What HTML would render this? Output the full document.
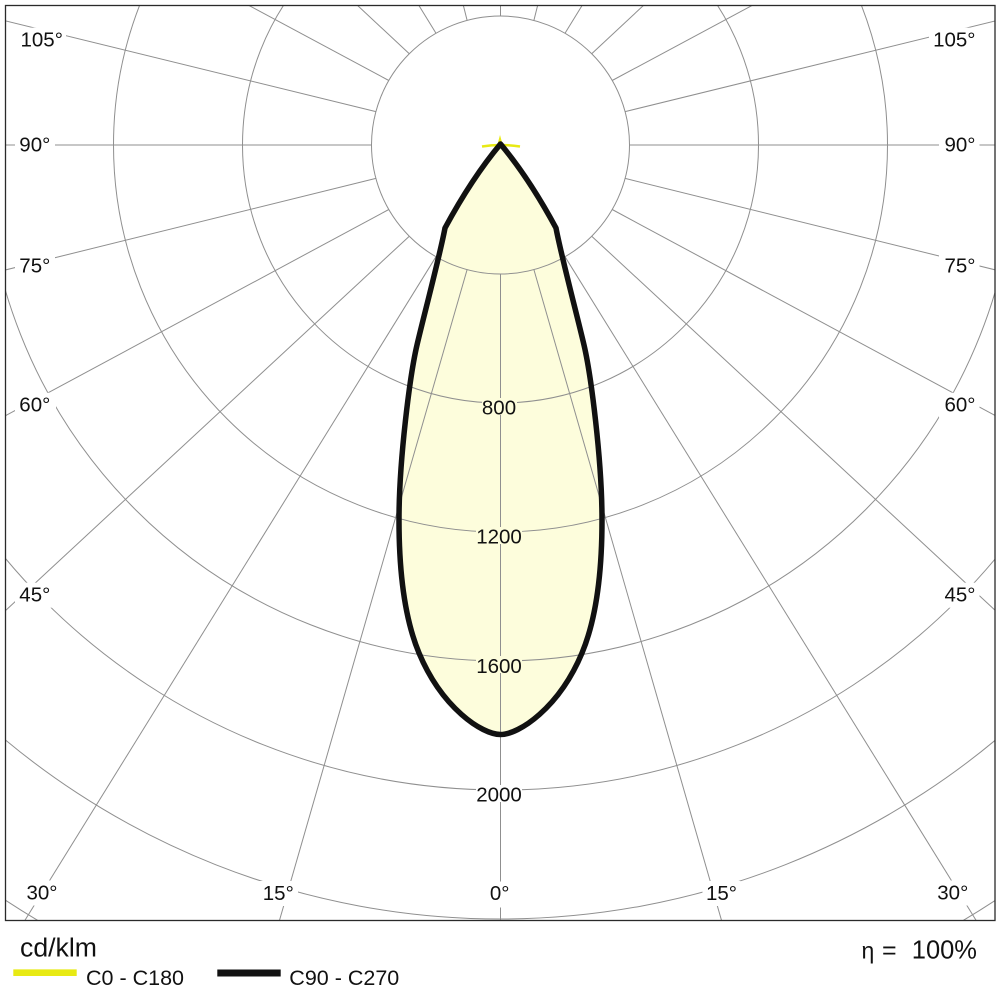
<!DOCTYPE html>
<html><head><meta charset="utf-8"><style>
html,body{margin:0;padding:0;background:#fff;}
svg{display:block;}
text{font-family:"Liberation Sans",Arial,sans-serif;fill:#111;}
</style></head><body>
<svg width="1000" height="1000" viewBox="0 0 1000 1000" xmlns="http://www.w3.org/2000/svg">
<defs><clipPath id="c"><rect x="5" y="5" width="990" height="915.5"/></clipPath></defs>
<rect width="1000" height="1000" fill="#fff"/>
<!-- fill -->
<path d="M500.5,144 Q472,178 445,228 C440,255 424,315 417,345 C410,375 399,460 399,520 C399,570 404,617 419,653 C442,708 482,734.5 500.5,734.5 C519,734.5 559,708 582,653 C597,617 602,570 602,520 C602,460 591,375 584,345 C577,315 561,255 556,228 Q529,178 500.5,144 Z" fill="#fdfddc"/>
<g clip-path="url(#c)" stroke="#8f8f8f" stroke-width="1" fill="none">
<circle cx="500.5" cy="145" r="129"/>
<circle cx="500.5" cy="145" r="258"/>
<circle cx="500.5" cy="145" r="387"/>
<circle cx="500.5" cy="145" r="516"/>
<circle cx="500.5" cy="145" r="645"/>
<circle cx="500.5" cy="145" r="774"/>
<circle cx="500.5" cy="145" r="903"/>
<line x1="500.5" y1="274" x2="500.5" y2="921"/>
<line x1="500.5" y1="16" x2="500.5" y2="4"/>
<!-- left -->
<line x1="467.1" y1="269.6" x2="279.3" y2="921"/>
<line x1="436" y1="256.7" x2="24.5" y2="921"/>
<line x1="409.3" y1="236.2" x2="4" y2="612"/>
<line x1="388.8" y1="209.5" x2="4" y2="416.5"/>
<line x1="375.9" y1="178.4" x2="4" y2="270.3"/>
<line x1="371.5" y1="145" x2="4" y2="145"/>
<line x1="375.9" y1="111.6" x2="4" y2="20.5"/>
<line x1="388.8" y1="80.5" x2="246.2" y2="4"/>
<line x1="409.3" y1="53.8" x2="356" y2="4"/>
<line x1="436" y1="33.3" x2="418" y2="4"/>
<line x1="467.1" y1="20.4" x2="463" y2="4"/>
<!-- right -->
<line x1="533.9" y1="269.6" x2="721.7" y2="921"/>
<line x1="565" y1="256.7" x2="976.5" y2="921"/>
<line x1="591.7" y1="236.2" x2="997" y2="612"/>
<line x1="612.2" y1="209.5" x2="997" y2="416.5"/>
<line x1="625.1" y1="178.4" x2="997" y2="270.3"/>
<line x1="629.5" y1="145" x2="997" y2="145"/>
<line x1="625.1" y1="111.6" x2="997" y2="20.5"/>
<line x1="612.2" y1="80.5" x2="754.8" y2="4"/>
<line x1="591.7" y1="53.8" x2="645" y2="4"/>
<line x1="565" y1="33.3" x2="583" y2="4"/>
<line x1="533.9" y1="20.4" x2="538" y2="4"/>
</g>
<!-- label backgrounds -->
<g fill="#fff">
<rect x="16" y="27.7" width="50" height="25"/>
<rect x="15" y="132.7" width="40" height="25"/>
<rect x="15" y="253.7" width="40" height="25"/>
<rect x="15" y="392.7" width="41" height="25"/>
<rect x="15" y="582.7" width="41" height="25"/>
<rect x="22.5" y="880.5" width="39" height="25"/>
<rect x="259" y="881" width="39" height="25"/>
<rect x="485" y="881.5" width="30" height="26"/>
<rect x="702.5" y="881" width="38" height="25"/>
<rect x="933" y="880.5" width="39.5" height="25"/>
<rect x="929" y="27.7" width="50.5" height="25"/>
<rect x="939" y="132.7" width="40.5" height="25"/>
<rect x="939" y="253.7" width="40.5" height="25"/>
<rect x="939" y="392.7" width="40.5" height="25"/>
<rect x="939" y="582.7" width="40.5" height="25"/>
</g>
<g fill="#fdfddc">
<rect x="482" y="398" width="35" height="17"/>
<rect x="476" y="527" width="46" height="17"/>
<rect x="476" y="656" width="46" height="17"/>
</g>
<rect x="476" y="785" width="46" height="17" fill="#fff"/>
<!-- border -->
<rect x="5.5" y="5.5" width="989.5" height="915" fill="none" stroke="#2a2a2a" stroke-width="1.3"/>
<!-- labels -->
<g font-size="20.5">
<text x="20.5" y="46.7">105°</text>
<text x="19.3" y="151.7">90°</text>
<text x="19.3" y="272.7">75°</text>
<text x="19.3" y="411.7">60°</text>
<text x="19.3" y="601.7">45°</text>
<text x="42" y="899.3" text-anchor="middle">30°</text>
<text x="278.3" y="900" text-anchor="middle">15°</text>
<text x="499.7" y="900" text-anchor="middle">0°</text>
<text x="721.5" y="900" text-anchor="middle">15°</text>
<text x="952.8" y="899.3" text-anchor="middle">30°</text>
<text x="975.5" y="46.7" text-anchor="end">105°</text>
<text x="975.5" y="151.7" text-anchor="end">90°</text>
<text x="975.5" y="272.7" text-anchor="end">75°</text>
<text x="975.5" y="411.7" text-anchor="end">60°</text>
<text x="975.5" y="601.7" text-anchor="end">45°</text>
<text x="499" y="414.3" text-anchor="middle">800</text>
<text x="499" y="543.5" text-anchor="middle">1200</text>
<text x="499" y="672.8" text-anchor="middle">1600</text>
<text x="499" y="801.7" text-anchor="middle">2000</text>
</g>
<!-- yellow C0-C180 -->
<path d="M482,146.5 Q500,143.5 520,146.5" stroke="#e8ea14" stroke-width="2.5" fill="none"/>
<path d="M497,146 L500,135 L503,146 Z" fill="#e8ea14"/>
<!-- black C90-C270 -->
<path d="M500.5,144 Q472,178 445,228 C440,255 424,315 417,345 C410,375 399,460 399,520 C399,570 404,617 419,653 C442,708 482,734.5 500.5,734.5 C519,734.5 559,708 582,653 C597,617 602,570 602,520 C602,460 591,375 584,345 C577,315 561,255 556,228 Q529,178 500.5,144 Z" fill="none" stroke="#111" stroke-width="5.5" stroke-linejoin="round"/>
<!-- legend -->
<text x="20" y="956.7" font-size="25.5" textLength="77" lengthAdjust="spacingAndGlyphs">cd/klm</text>
<line x1="13.3" y1="972.7" x2="76.7" y2="972.7" stroke="#e8ea14" stroke-width="6.7"/>
<text x="86" y="985" font-size="21.5">C0 - C180</text>
<line x1="217.3" y1="973" x2="280.7" y2="973" stroke="#111" stroke-width="7"/>
<text x="289.3" y="985" font-size="21.5">C90 - C270</text>
<text x="861.5" y="958.3" font-size="23">η</text>
<text x="882" y="958.3" font-size="25">=</text>
<text x="977" y="958.3" font-size="25.5" text-anchor="end">100%</text>
</svg>
</body></html>
